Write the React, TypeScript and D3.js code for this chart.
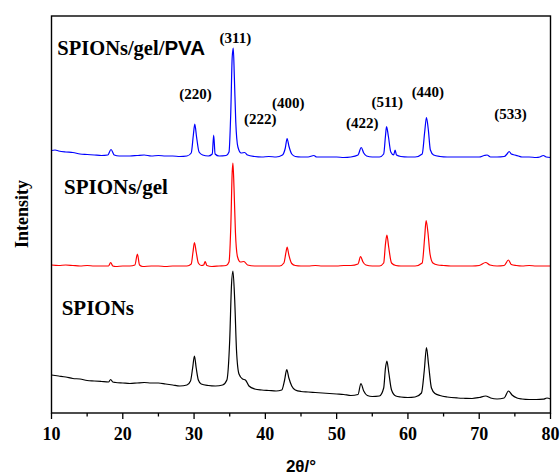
import React from "react";
import * as d3 from "d3";

// 2θ (deg), intensity (a.u., stacked)
const spions: [number, number][] = [
  [10, 37], [11, 36], [12, 35], [13, 33.5], [14, 33], [15, 31.5], [16, 31], [17, 30.5], [18, 30],
  [18.3, 32.5], [18.6, 30], [19, 29.5], [20, 29], [21, 28.5], [22, 29], [23, 29.5], [24, 29], [25, 29],
  [26, 28], [27, 27], [28, 26], [29, 27], [29.5, 31], [29.8, 44], [30.05, 56], [30.3, 44], [30.6, 32],
  [31, 28], [32, 26.5], [33, 26], [34, 27], [34.6, 32], [35.0, 72], [35.25, 127], [35.45, 141],
  [35.7, 112], [35.95, 62], [36.3, 38], [36.8, 33], [37.2, 32], [37.7, 26], [38.5, 23], [39.5, 22],
  [40.5, 21.5], [41.5, 21], [42.3, 22], [42.7, 32], [43.0, 42.5], [43.3, 34], [43.7, 26], [44.2, 22],
  [45, 20.5], [46, 20], [47, 19.5], [48, 19], [49, 18.5], [50, 18], [51, 17.5], [52, 16.5], [53, 17.5],
  [53.4, 28.5], [53.8, 21], [54.3, 16.5], [55, 15.5], [56, 16], [56.6, 24], [56.85, 44], [57.05, 51],
  [57.3, 40], [57.7, 22], [58.3, 16], [59, 15], [60, 14.5], [61, 15], [61.9, 19], [62.3, 42],
  [62.6, 64.5], [62.9, 47], [63.3, 24], [63.8, 18.5], [64.5, 16.5], [65.5, 15], [67, 14], [68, 13.7],
  [69, 13.5], [70, 14.5], [70.9, 16], [71.6, 14], [72.5, 13], [73.5, 14], [74.1, 21], [74.6, 17],
  [75.3, 14], [76, 13], [77, 12.5], [78, 12.5], [79, 12.8], [79.5, 14], [80, 13],
];

const spionsGel: [number, number][] = [
  [10, 147], [11, 146.5], [12, 147], [13, 146.5], [14, 146], [15, 146.5], [16, 146], [17, 146],
  [18, 146], [18.3, 149.5], [18.6, 146], [19, 145.5], [20, 146], [21, 146], [21.7, 147], [22.05, 158],
  [22.35, 147], [22.8, 145.5], [24, 146], [25, 146], [26, 145.5], [27, 146], [28, 146], [29, 146],
  [29.6, 148], [29.85, 160], [30.05, 169.5], [30.3, 160], [30.6, 149], [31.0, 146.5], [31.35, 147],
  [31.55, 150.5], [31.8, 146.5], [32.5, 145.5], [33.5, 146], [34.5, 146.5], [34.9, 150], [35.15, 185],
  [35.35, 240], [35.45, 249], [35.6, 225], [35.8, 180], [36.1, 155], [36.5, 150], [37.0, 150.5],
  [37.5, 147], [38.5, 146], [40, 146], [41, 146], [42, 146], [42.6, 149], [42.9, 160], [43.05, 165],
  [43.3, 157], [43.7, 148.5], [44.2, 146.5], [45, 146], [46, 146], [47, 146.5], [48, 146], [49, 146],
  [50, 146], [51, 146.5], [52, 146.5], [53.0, 148], [53.35, 155.5], [53.7, 150], [54.1, 147], [55, 146],
  [56, 146], [56.6, 149], [56.85, 168], [57.05, 177], [57.3, 165], [57.7, 149], [58.3, 146.5], [59, 146],
  [60, 146], [61, 146], [62.0, 149], [62.35, 175], [62.55, 191.5], [62.8, 180], [63.1, 158], [63.5, 149],
  [64.2, 147], [65, 146.5], [66, 146], [67, 146], [68, 146], [69, 146], [70, 146.5], [70.9, 149.5],
  [71.5, 147], [72.5, 146], [73.5, 146.5], [74.1, 152], [74.5, 147.5], [75.2, 146.5], [76, 146],
  [77, 146.5], [78, 146], [79, 146], [80, 146],
];

const spionsGelPva: [number, number][] = [
  [10, 261.5], [10.5, 262], [11, 261], [12, 260], [13, 259.5], [14, 258], [15, 257.5], [16, 257],
  [17, 256.5], [17.9, 257], [18.35, 262.5], [18.8, 257], [19.5, 256], [20, 256], [21, 256], [22, 256.5],
  [23, 257], [24, 256], [25, 256.5], [26, 256], [27, 256], [28, 255.5], [29, 256], [29.6, 259],
  [29.9, 277], [30.1, 288], [30.35, 275], [30.7, 260], [31.2, 257], [32, 256], [32.55, 258],
  [32.75, 277], [32.95, 258], [33.5, 256], [34.5, 256.5], [34.9, 260], [35.15, 300], [35.35, 355],
  [35.5, 364], [35.65, 335], [35.85, 290], [36.15, 265], [36.6, 259], [37.1, 259.5], [37.5, 257],
  [38.5, 255.5], [39.5, 255], [40.5, 255.5], [41.5, 255], [42.4, 257], [42.8, 264], [43.05, 273.5],
  [43.3, 266], [43.7, 258], [44.2, 255.5], [45, 255], [46, 255], [46.8, 256.5], [47.2, 255], [48, 255],
  [49, 255], [50, 255], [51, 254.5], [52, 255], [53.0, 257], [53.45, 264.5], [53.8, 259], [54.2, 256],
  [55, 255], [56, 255], [56.6, 258], [56.85, 276], [57.0, 285.5], [57.25, 276], [57.6, 260], [58.0, 257],
  [58.2, 262], [58.4, 257], [59, 255.5], [60, 255], [61, 255], [62.0, 258], [62.35, 280], [62.6, 294.5],
  [62.85, 283], [63.15, 262], [63.6, 257], [64.5, 255.5], [65.5, 255], [67, 255], [68, 255], [69, 255],
  [70, 255], [70.7, 256.5], [71.1, 257], [71.6, 255], [72.5, 255], [73.5, 255.5], [73.9, 258],
  [74.2, 260.5], [74.5, 258], [75.0, 257], [75.5, 256], [76, 255], [77, 255], [78, 254.5], [78.5, 255],
  [79.0, 256.5], [79.4, 255], [80, 254.5],
];

const seriesNames = ["SPIONs", "SPIONs/gel", "SPIONs/gel/PVA"];
const seriesColors = ["#000000", "#ff0000", "#0000ff"];

// Miller index labels: [label, 2θ, intensity position]
const hklLabels: [string, number, number][] = [
  ["(220)", 30.2, 313],
  ["(311)", 35.8, 369],
  ["(222)", 39.3, 288],
  ["(400)", 43.2, 304],
  ["(422)", 53.6, 284],
  ["(511)", 57.1, 305],
  ["(440)", 62.8, 315],
  ["(533)", 74.4, 293],
];

const xMajorTicks = [10, 20, 30, 40, 50, 60, 70, 80];
const xMinorTicks = [15, 25, 35, 45, 55, 65, 75];

const W = 560;
const H = 475;
const L = 51.5;
const R = 550.5;
const T = 16;
const B = 413;

export default function App() {
  const x = d3.scaleLinear().domain([10, 80]).range([L, R]);
  const y = d3.scaleLinear().domain([-1, 396]).range([B, T]);
  const line = d3
    .line<[number, number]>()
    .x((d) => x(d[0]))
    .y((d) => y(d[1]))
    .curve(d3.curveMonotoneX);
  const data = [spions, spionsGel, spionsGelPva];
  const serif = "'Liberation Serif', 'Times New Roman', serif";
  const sans = "'Liberation Sans', Arial, sans-serif";

  return (
    <svg width={W} height={H} style={{ position: "absolute", left: 0, top: 0 }}>
      <rect x={0} y={0} width={W} height={H} fill="#fff" />
      {data.map((d, i) => (
        <path key={i} d={line(d) || ""} fill="none" stroke={seriesColors[i]} strokeWidth={1.2} />
      ))}
      <rect x={L} y={T} width={R - L} height={B - T} fill="none" stroke="#000" strokeWidth={1.4} />
      {xMajorTicks.map((t) => (
        <g key={"M" + t}>
          <line x1={x(t)} x2={x(t)} y1={B} y2={B + 6} stroke="#000" strokeWidth={1.3} />
          <text x={x(t)} y={440} textAnchor="middle" fontFamily={serif} fontWeight="bold" fontSize={18}>
            {t}
          </text>
        </g>
      ))}
      {xMinorTicks.map((t) => (
        <line key={"m" + t} x1={x(t)} x2={x(t)} y1={B} y2={B + 3.5} stroke="#000" strokeWidth={1.3} />
      ))}
      <text x={(L + R) / 2} y={472} textAnchor="middle" fontFamily={sans} fontWeight="bold" fontSize={17}>
        2θ/°
      </text>
      <text
        transform="translate(28,214) rotate(-90)"
        textAnchor="middle"
        fontFamily={serif}
        fontWeight="bold"
        fontSize={18}
      >
        Intensity
      </text>
      {hklLabels.map(([lab, tt, iv]) => (
        <text key={lab} x={x(tt)} y={y(iv)} textAnchor="middle" fontFamily={serif} fontWeight="bold" fontSize={15}>
          {lab}
        </text>
      ))}
      <text x={57.3} y={55} fontFamily={serif} fontWeight="bold" fontSize={20.5}>
        SPIONs/gel/<tspan fontFamily={sans}>PVA</tspan>
      </text>
      <text x={64} y={194} fontFamily={serif} fontWeight="bold" fontSize={21}>
        {seriesNames[1]}
      </text>
      <text x={61.7} y={315} fontFamily={serif} fontWeight="bold" fontSize={21}>
        {seriesNames[0]}
      </text>
    </svg>
  );
}
